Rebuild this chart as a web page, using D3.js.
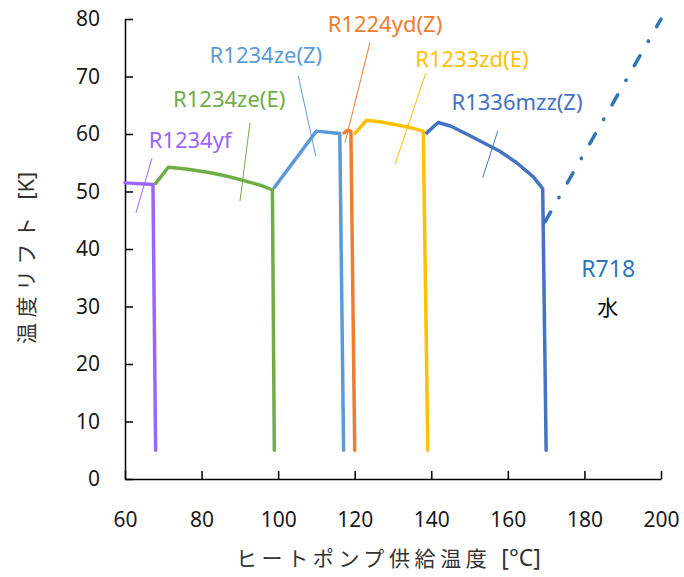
<!DOCTYPE html>
<html>
<head>
<meta charset="utf-8">
<script src="https://cdn.jsdelivr.net/npm/d3@7"></script>
<style>
  html, body { margin: 0; padding: 0; background: #fff; }
  svg { display: block; }
</style>
</head>
<body>
<svg id="chart" width="684" height="577"></svg>
<script>
// ---- data (x: heat pump supply temperature °C, y: temperature lift K) ----
const xTicks = [60, 80, 100, 120, 140, 160, 180, 200];
const yTicks = [0, 10, 20, 30, 40, 50, 60, 70, 80];

const r1234yf   = [[60, 51.5], [67.3, 51.2], [68, 5]];
const r1234zeE  = [[68, 51.4], [71.3, 54.2], [76, 53.9], [82, 53.3], [87, 52.6], [91, 51.9], [95.3, 51.1], [98.5, 50.3], [99, 5]];
const r1234zeZ  = [[99, 50.7], [110, 60.5], [116.1, 60.1], [117.1, 5]];
const r1224ydZ  = [[117.2, 60.2], [118.0, 60.6], [119.0, 60.5], [120, 5]];
const r1233zdE  = [[120.1, 60.1], [123.1, 62.4], [127, 62.1], [130.1, 61.7], [134, 61.2], [137.9, 60.5], [139.1, 5]];
const r1336mzzZ = [[138.8, 60.2], [141.8, 62.0], [145, 61.4], [149.2, 60.0], [153, 58.7], [157.9, 57.0], [162.3, 55.0], [166.6, 52.6], [169.1, 50.5], [170, 5]];
const r718      = [[169.7, 44.7], [200, 80]];

const seriesNames  = ["R1234yf", "R1234ze(E)", "R1234ze(Z)", "R1224yd(Z)", "R1233zd(E)", "R1336mzz(Z)"];
const seriesData   = [r1234yf, r1234zeE, r1234zeZ, r1224ydZ, r1233zdE, r1336mzzZ];
const seriesColors = ["#9966FF", "#70AD47", "#5B9BD5", "#ED7D31", "#FFC000", "#4472C4"];
const r718Color = "#2E75B6";

// label anchor (x, baseline y) and leader line endpoints, in data units
const labelPos = [[77.0, 57.5], [87.2, 64.7], [96.8, 72.3], [127.9, 77.8], [150.6, 71.7], [162.4, 64.2]];
const leaderFrom = [[67.05, 55.8], [92.65, 62.0], [105.27, 70.1], [124.0, 75.95], [138.54, 70.56], [157.35, 60.5]];
const leaderTo   = [[62.87, 46.3], [90.04, 48.35], [109.81, 56.2], [117.46, 58.5], [130.52, 54.7], [153.43, 52.4]];

const r718Label = "R718";
const r718LabelPos = [186.2, 35.1];
const waterLabel = "水";
const waterLabelPos = [186.1, 28.5];

const xTitleJa = "ヒートポンプ供給温度";
const xTitleUnit = " [°C]";
const yTitleJa = "温度リフト";
const yTitleUnit = " [K]";

// ---- layout ----
const svg = d3.select("#chart");
const pLeft = 125, pRight = 661, pTop = 19, pBottom = 479;
const x = d3.scaleLinear().domain([60, 200]).range([pLeft, pRight]);
const y = d3.scaleLinear().domain([0, 80]).range([pBottom, pTop]);

const latin = "'Noto Sans', 'Open Sans', sans-serif";
const cjk = "'Noto Sans CJK JP', 'Noto Sans', sans-serif";

// axes
const gx = svg.append("g").attr("transform", `translate(0,${pBottom})`)
  .call(d3.axisBottom(x).tickValues(xTicks).tickSizeInner(-8).tickSizeOuter(0).tickPadding(33));
const gy = svg.append("g").attr("transform", `translate(${pLeft},0)`)
  .call(d3.axisLeft(y).tickValues(yTicks).tickSizeInner(-8).tickSizeOuter(0).tickPadding(25));
[gx, gy].forEach(g => {
  g.select(".domain").attr("stroke", "#000").attr("stroke-width", 1.5);
  g.selectAll(".tick line").attr("stroke", "#000").attr("stroke-width", 1.5);
  g.selectAll(".tick text").attr("font-family", latin).attr("font-size", 21).attr("fill", "#1a1a1a");
});

// series lines
const line = d3.line().x(d => x(d[0])).y(d => y(d[1]));
seriesData.forEach((data, i) => {
  svg.append("path").datum(data)
    .attr("d", line)
    .attr("fill", "none")
    .attr("stroke", seriesColors[i])
    .attr("stroke-width", 3.5)
    .attr("stroke-linejoin", "round")
    .attr("stroke-linecap", "round");
});

// R718 dash-dot line
svg.append("path").datum(r718)
  .attr("d", line)
  .attr("fill", "none")
  .attr("stroke", r718Color)
  .attr("stroke-width", 3.5)
  .attr("stroke-linecap", "round")
  .attr("stroke-dasharray", "11.5,16.5,0.5,16.5");

// leader lines and labels
seriesNames.forEach((name, i) => {
  svg.append("line")
    .attr("x1", x(leaderFrom[i][0])).attr("y1", y(leaderFrom[i][1]))
    .attr("x2", x(leaderTo[i][0])).attr("y2", y(leaderTo[i][1]))
    .attr("stroke", seriesColors[i]).attr("stroke-width", 1);
  svg.append("text")
    .attr("x", x(labelPos[i][0])).attr("y", y(labelPos[i][1]))
    .attr("text-anchor", "middle")
    .attr("font-family", latin).attr("font-size", 22)
    .attr("fill", seriesColors[i])
    .text(name);
});

svg.append("text")
  .attr("x", x(r718LabelPos[0])).attr("y", y(r718LabelPos[1]))
  .attr("text-anchor", "middle")
  .attr("font-family", latin).attr("font-size", 23)
  .attr("fill", r718Color).text(r718Label);
svg.append("text")
  .attr("x", x(waterLabelPos[0])).attr("y", y(waterLabelPos[1]))
  .attr("text-anchor", "middle")
  .attr("font-family", cjk).attr("font-size", 21)
  .attr("fill", "#000").text(waterLabel);

// axis titles
const xt = svg.append("text")
  .attr("x", 236).attr("y", 566)
  .attr("fill", "#333");
xt.append("tspan").attr("font-family", cjk).attr("font-size", 21).attr("letter-spacing", 4.6).text(xTitleJa);
xt.append("tspan").attr("font-family", latin).attr("font-size", 23).attr("dx", 4).text(xTitleUnit);

const yt = svg.append("text")
  .attr("transform", `translate(34,344) rotate(-90)`)
  .attr("fill", "#333");
yt.append("tspan").attr("font-family", cjk).attr("font-size", 21).attr("letter-spacing", 5.5).text(yTitleJa);
yt.append("tspan").attr("font-family", latin).attr("font-size", 22).attr("dx", 6).text(yTitleUnit);
</script>
</body>
</html>
